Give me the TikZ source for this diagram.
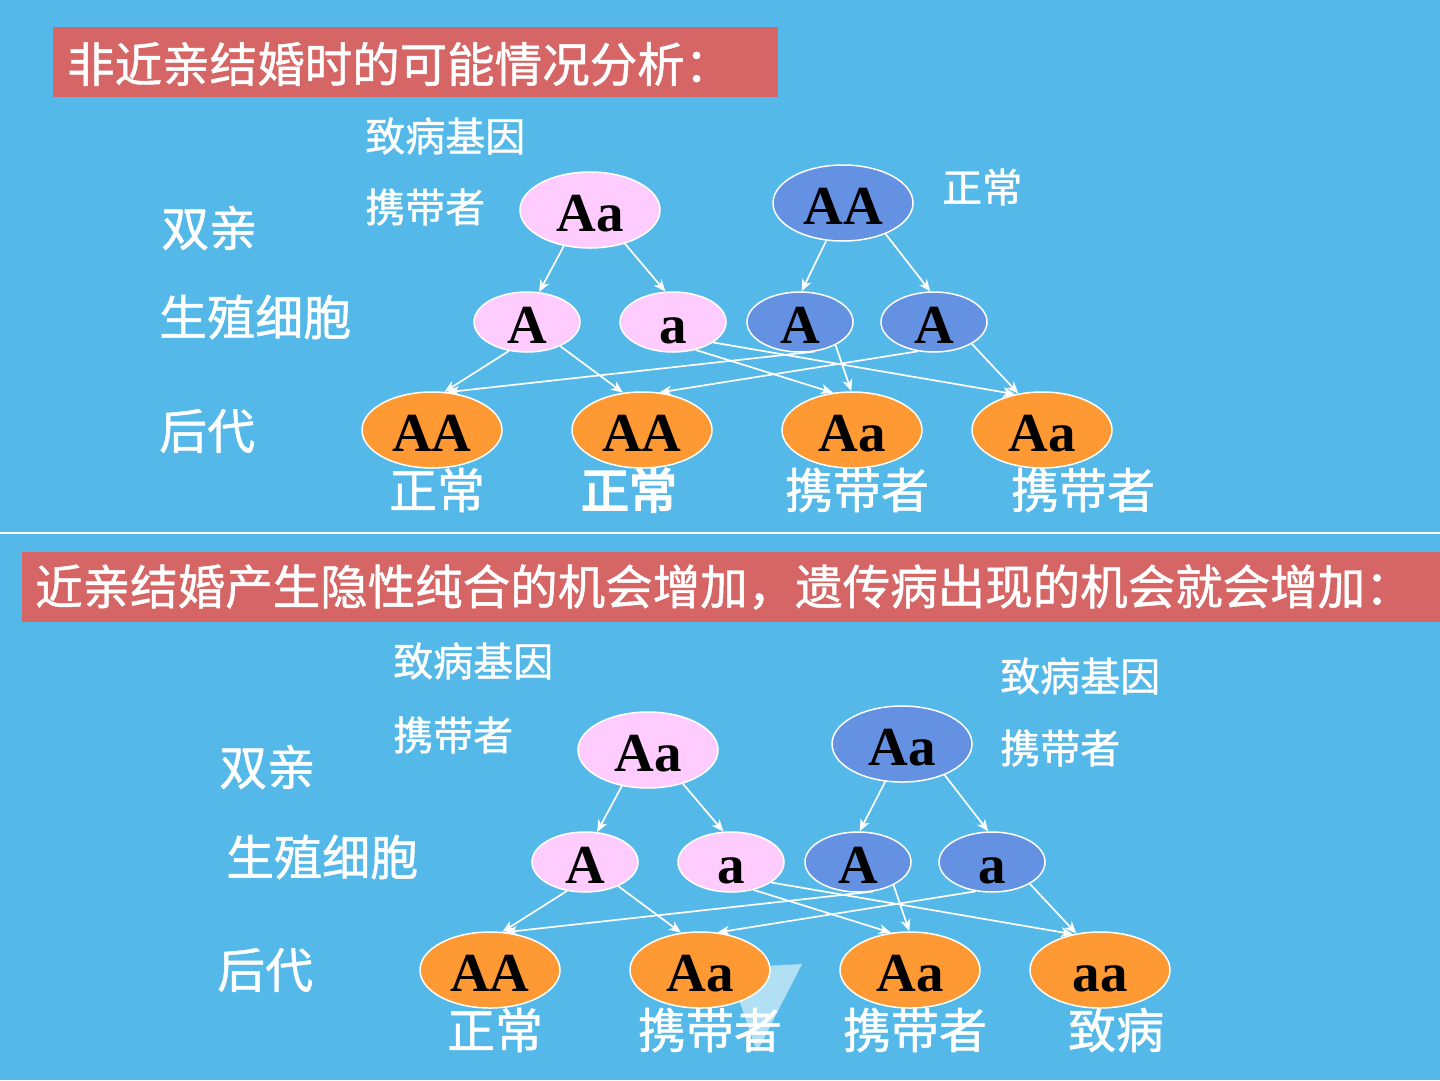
\documentclass[tikz,border=0pt]{standalone}
\usepackage{fontspec}
\usetikzlibrary{shapes.geometric,arrows.meta}
\newfontfamily\cjk[FakeBold=1]{Noto Sans CJK SC}
\newfontfamily\cjkbold[FakeBold=4]{Noto Sans CJK SC}
\newfontfamily\lat{Liberation Serif}
\definecolor{bgC}{RGB}{84,185,232}
\definecolor{bannerC}{RGB}{214,101,101}
\definecolor{pinkC}{RGB}{255,204,255}
\definecolor{blueC}{RGB}{100,145,225}
\definecolor{orangeC}{RGB}{255,153,51}
\tikzset{
  gene/.style={ellipse, draw=white, line width=1.5pt, inner sep=0pt, text=black,
    text height=42pt, text depth=0pt,
    font=\lat\bfseries\fontsize{55}{55}\selectfont},
  parentbox/.style={gene, minimum width=140pt, minimum height=76pt},
  gametebox/.style={gene, minimum width=106pt, minimum height=60pt},
  childbox/.style={gene, fill=orangeC, minimum width=140pt, minimum height=76pt},
  lblS/.style={text=white, inner sep=0pt, anchor=west, font=\cjk\fontsize{40}{40}\selectfont},
  lblL/.style={text=white, inner sep=0pt, anchor=west, font=\cjk\fontsize{48}{48}\selectfont},
  lblC/.style={text=white, inner sep=0pt, font=\cjk\fontsize{48}{48}\selectfont},
  bannertxt/.style={text=white, inner sep=0pt, anchor=west, font=\cjk\fontsize{47.5}{47.5}\selectfont},
  conn/.style={white, line width=1.7pt, -{Stealth[length=12pt,width=10pt,inset=3.5pt]}},
}
\begin{document}
\begin{tikzpicture}[x=1pt,y=-1pt]
\useasboundingbox (0,0) rectangle (1440,1080);
\fill[bgC] (0,0) rectangle (1440,1080);

% ---------- top banner ----------
\fill[bannerC] (53,27) rectangle (778,97);
\node[bannertxt] (t1) at (67,64) {非近亲结婚时的可能情况分析：};

% ---------- top labels ----------
\node[lblS] (tl1) at (365,136) {致病基因};
\node[lblS] (tl2) at (365,207) {携带者};
\node[lblS] (tl3) at (942,187) {正常};
\node[lblL] (tl4) at (161,228) {双亲};
\node[lblL] (tl5) at (159,317) {生殖细胞};
\node[lblL] (tl6) at (159,431) {后代};

% ---------- top tree ----------
\node[parentbox, fill=pinkC] (tP1) at (590,210) {Aa};
\node[parentbox, fill=blueC] (tP2) at (843,203) {AA};
\node[gametebox, fill=pinkC] (tG1) at (527,322) {A};
\node[gametebox, fill=pinkC] (tG2) at (673,322) {a};
\node[gametebox, fill=blueC] (tG3) at (800,322) {A};
\node[gametebox, fill=blueC] (tG4) at (934,322) {A};
\node[childbox] (tC1) at (432,430) {AA};
\node[childbox] (tC2) at (642,430) {AA};
\node[childbox] (tC3) at (852,430) {Aa};
\node[childbox] (tC4) at (1042,430) {Aa};

\draw[conn] (tP1.-126) -- (tG1.68);
\draw[conn] (tP1.-44) -- (tG2.104);
\draw[conn] (tP2.-114) -- (tG3.87);
\draw[conn] (tP2.-36) -- (tG4.97);
\draw[conn] (tG1.-122) -- (tC1.72);
\draw[conn] (tG1.-36) -- (tC2.117);
\draw[conn] (tG2.-51) -- (tC3.117);
\draw[conn] (tG2.-27) -- (tC4.127);
\draw[conn] (tG3.-63) -- (tC1.68);
\draw[conn] (tG3.-33) -- (tC3.91);
\draw[conn] (tG4.-119) -- (tC2.65);
\draw[conn] (tG4.-30) -- (tC4.123);

\node[lblC] (to1) at (437,490) {正常};
\node[lblC, font=\cjkbold\fontsize{48}{48}\selectfont] (to2) at (629,490) {正常};
\node[lblC] (to3) at (857,490) {携带者};
\node[lblC] (to4) at (1083,490) {携带者};

% ---------- separator ----------
\draw[white, line width=2.5pt] (0,533) -- (1440,533);

% ---------- bottom banner ----------
\fill[bannerC] (22,552) rectangle (1440,622);
\node[bannertxt] (b1) at (35,587) {近亲结婚产生隐性纯合的机会增加，遗传病出现的机会就会增加：};

% ---------- bottom labels ----------
\node[lblS] (bl1) at (393,661) {致病基因};
\node[lblS] (bl2) at (393,735) {携带者};
\node[lblS] (bl3) at (1000,676) {致病基因};
\node[lblS] (bl4) at (1000,748) {携带者};
\node[lblL] (bl5) at (219,767) {双亲};
\node[lblL] (bl6) at (226,857) {生殖细胞};
\node[lblL] (bl7) at (217,970) {后代};

% faint pointer shape
\fill[white, opacity=0.55] (728,968) -- (802,964) -- (757,1052) -- cycle;

% ---------- bottom tree ----------
\begin{scope}[shift={(58,540)}]
\node[parentbox, fill=pinkC] (bP1) at (590,210) {Aa};
\node[parentbox, fill=blueC] (bP2) at (844,204) {Aa};
\node[gametebox, fill=pinkC] (bG1) at (527,322) {A};
\node[gametebox, fill=pinkC] (bG2) at (673,322) {a};
\node[gametebox, fill=blueC] (bG3) at (800,322) {A};
\node[gametebox, fill=blueC] (bG4) at (934,322) {a};
\node[childbox] (bC1) at (432,430) {AA};
\node[childbox] (bC2) at (642,430) {Aa};
\node[childbox] (bC3) at (852,430) {Aa};
\node[childbox] (bC4) at (1042,430) {aa};
\end{scope}

\draw[conn] (bP1.-126) -- (bG1.68);
\draw[conn] (bP1.-44) -- (bG2.104);
\draw[conn] (bP2.-114) -- (bG3.87);
\draw[conn] (bP2.-36) -- (bG4.97);
\draw[conn] (bG1.-122) -- (bC1.72);
\draw[conn] (bG1.-36) -- (bC2.117);
\draw[conn] (bG2.-51) -- (bC3.117);
\draw[conn] (bG2.-27) -- (bC4.127);
\draw[conn] (bG3.-63) -- (bC1.68);
\draw[conn] (bG3.-33) -- (bC3.91);
\draw[conn] (bG4.-119) -- (bC2.65);
\draw[conn] (bG4.-30) -- (bC4.123);

\node[lblC] (bo1) at (495,1030) {正常};
\node[lblC] (bo2) at (710,1030) {携带者};
\node[lblC] (bo3) at (915,1030) {携带者};
\node[lblC] (bo4) at (1116,1030) {致病};
\end{tikzpicture}
\end{document}
